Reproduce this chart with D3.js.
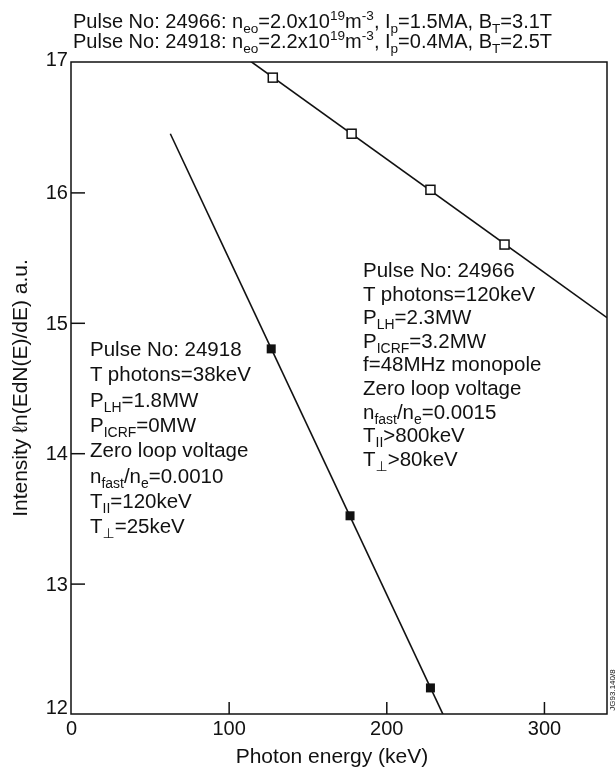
<!DOCTYPE html>
<html>
<head>
<meta charset="utf-8">
<script src="https://cdn.jsdelivr.net/npm/d3@7"></script>
<style>
  body { margin: 0; background: #fff; }
  svg { display: block; will-change: transform; }
  text { font-family: "Liberation Sans", Arial, Helvetica, sans-serif; fill: #111; }
</style>
</head>
<body>
<svg id="chart" width="616" height="772"></svg>
<script>
// Pulse 24966 (open squares)
const energyA = [128, 178, 228, 275];
const intensityA = [16.88, 16.45, 16.02, 15.60];
const fitSpanA = [100, 340];
// Pulse 24918 (filled squares)
const energyB = [127, 177, 228];
const intensityB = [14.80, 13.52, 12.20];
const fitSpanB = [63, 245];

const xTicks = [0, 100, 200, 300];
const yTicks = [12, 13, 14, 15, 16, 17];

const titleLines = [
  "Pulse No: 24966: n_{eo}=2.0x10^{19}m^{-3}, I_{p}=1.5MA, B_{T}=3.1T",
  "Pulse No: 24918: n_{eo}=2.2x10^{19}m^{-3}, I_{p}=0.4MA, B_{T}=2.5T"
];
const notesA = [
  "Pulse No: 24966",
  "T photons=120keV",
  "P_{LH}=2.3MW",
  "P_{ICRF}=3.2MW",
  "f=48MHz monopole",
  "Zero loop voltage",
  "n_{fast}/n_{e}=0.0015",
  "T_{II}>800keV",
  "T_{\u22a5}>80keV"
];
const notesB = [
  "Pulse No: 24918",
  "T photons=38keV",
  "P_{LH}=1.8MW",
  "P_{ICRF}=0MW",
  "Zero loop voltage",
  "n_{fast}/n_{e}=0.0010",
  "T_{II}=120keV",
  "T_{\u22a5}=25keV"
];

const svg = d3.select('#chart');
const pLeft = 71, pRight = 607, pTop = 62, pBottom = 714;

const x = d3.scaleLinear().domain([0, 340]).range([pLeft, pRight]);
const y = d3.scaleLinear().domain([12, 17]).range([pBottom, pTop]);

// text with _{sub} and ^{sup} pieces
function rich(sel, str, fs) {
  const parts = str.split(/(_\{[^}]*\}|\^\{[^}]*\})/).filter(s => s.length);
  let cur = 0;
  parts.forEach(p => {
    let off = 0, size = fs, txt = p;
    if (p[0] === '_') { txt = p.slice(2, -1); off = fs * 0.25; size = fs * 0.68; }
    else if (p[0] === '^') { txt = p.slice(2, -1); off = -fs * 0.4; size = fs * 0.68; }
    const ts = sel.append('tspan')
      .attr('dy', off - cur)
      .attr('font-size', size)
      .text(txt);
    if (txt.indexOf('\u22a5') >= 0) ts.attr('font-family', '"DejaVu Sans", sans-serif');
    cur = off;
  });
}

svg.append('clipPath').attr('id', 'plotclip')
  .append('rect')
  .attr('x', pLeft).attr('y', pTop)
  .attr('width', pRight - pLeft).attr('height', pBottom - pTop);

// frame
svg.append('rect')
  .attr('x', pLeft).attr('y', pTop)
  .attr('width', pRight - pLeft).attr('height', pBottom - pTop)
  .attr('fill', 'none').attr('stroke', '#111').attr('stroke-width', 1.5);

// inward ticks
svg.append('g')
  .attr('transform', 'translate(0,' + pBottom + ')')
  .call(d3.axisBottom(x).tickValues(xTicks).tickSizeInner(-12).tickSizeOuter(0).tickPadding(7))
  .call(g => g.select('.domain').remove())
  .call(g => g.selectAll('line').attr('stroke', '#111').attr('stroke-width', 1.5)
    .filter(d => d === 0).remove())
  .call(g => g.selectAll('text').attr('font-size', 20).attr('fill', '#111')
    .attr('font-family', '"Liberation Sans", Arial, sans-serif'));

svg.append('g')
  .attr('transform', 'translate(' + pLeft + ',0)')
  .call(d3.axisLeft(y).tickValues(yTicks).tickFormat(d3.format('d'))
    .tickSizeInner(-14).tickSizeOuter(0).tickPadding(3))
  .call(g => g.select('.domain').remove())
  .call(g => g.selectAll('line').attr('stroke', '#111').attr('stroke-width', 1.5)
    .filter(d => d === 12 || d === 17).remove())
  .call(g => g.selectAll('text').attr('font-size', 20).attr('fill', '#111')
    .attr('font-family', '"Liberation Sans", Arial, sans-serif')
    .attr('y', d => d === 12 ? -7 : d === 17 ? -3 : 0));

// fitted straight lines
function fit(xs, ys) {
  const mx = d3.mean(xs), my = d3.mean(ys);
  const sxy = d3.sum(xs, (v, i) => (v - mx) * (ys[i] - my));
  const sxx = d3.sum(xs, v => (v - mx) * (v - mx));
  const b = sxy / sxx;
  return e => my + b * (e - mx);
}
const fitA = fit(energyA, intensityA);
const fitB = fit(energyB, intensityB);
const line = d3.line().x(d => x(d[0])).y(d => y(d[1]));

const plot = svg.append('g').attr('clip-path', 'url(#plotclip)');
plot.append('path')
  .attr('d', line(fitSpanA.map(e => [e, fitA(e)])))
  .attr('fill', 'none').attr('stroke', '#111').attr('stroke-width', 1.6);
plot.append('path')
  .attr('d', line(fitSpanB.map(e => [e, fitB(e)])))
  .attr('fill', 'none').attr('stroke', '#111').attr('stroke-width', 1.6);

const ms = 9;
svg.append('g').selectAll('rect')
  .data(energyA.map((e, i) => [e, intensityA[i]]))
  .enter().append('rect')
  .attr('x', d => x(d[0]) - ms / 2).attr('y', d => y(d[1]) - ms / 2)
  .attr('width', ms).attr('height', ms)
  .attr('fill', '#fff').attr('stroke', '#111').attr('stroke-width', 1.5);
svg.append('g').selectAll('rect')
  .data(energyB.map((e, i) => [e, intensityB[i]]))
  .enter().append('rect')
  .attr('x', d => x(d[0]) - ms / 2).attr('y', d => y(d[1]) - ms / 2)
  .attr('width', ms).attr('height', ms)
  .attr('fill', '#111');

// titles above the frame
titleLines.forEach((t, i) => {
  rich(svg.append('text').attr('x', 73).attr('y', 28 + i * 20).attr('font-size', 20), t, 20);
});

// annotation blocks
notesA.forEach((t, i) => {
  rich(svg.append('text').attr('x', 363).attr('y', 277 + i * 23.6).attr('font-size', 20.5), t, 20.5);
});
notesB.forEach((t, i) => {
  rich(svg.append('text').attr('x', 90).attr('y', 356 + i * 25.3).attr('font-size', 20.5), t, 20.5);
});

// axis titles
svg.append('text')
  .attr('x', 332).attr('y', 763)
  .attr('text-anchor', 'middle').attr('font-size', 21)
  .text('Photon energy (keV)');
svg.append('text')
  .attr('transform', 'translate(27,' + (pTop + pBottom) / 2 + ') rotate(-90)')
  .attr('text-anchor', 'middle').attr('font-size', 21)
  .text('Intensity \u2113n(EdN(E)/dE) a.u.');

// figure code on the right margin
svg.append('text')
  .attr('transform', 'translate(615,690) rotate(-90)')
  .attr('text-anchor', 'middle').attr('font-size', 8)
  .text('JG93.140/8');
</script>
</body>
</html>
